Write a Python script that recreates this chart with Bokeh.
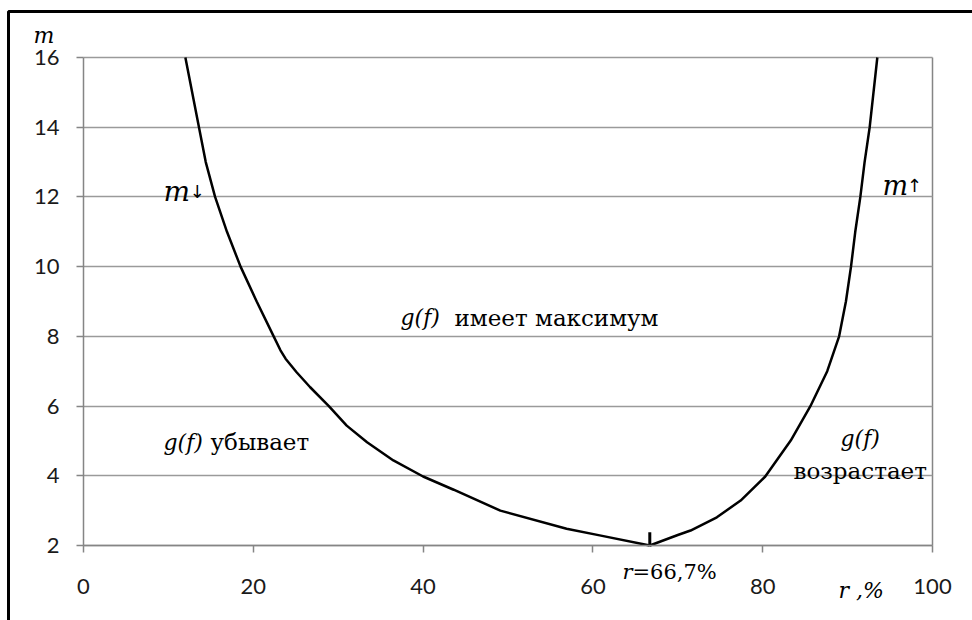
from bokeh.plotting import figure
from bokeh.models import Range1d, FixedTicker, Label, BoxAnnotation
from bokeh.embed import file_html
from bokeh.resources import INLINE

# ---- data ----
r_left = [12.0, 13.6, 14.4, 15.5, 16.9, 18.5, 20.4, 22.4, 23.2, 23.8, 25.1, 26.7, 28.9, 31.0,
          33.4, 36.5, 40.0, 43.6, 49.1, 56.9, 60.8, 66.7]
m_left = [16.0, 14.0, 13.0, 12.0, 11.0, 10.0, 9.0, 8.0, 7.6, 7.36, 6.97, 6.54, 6.0, 5.44,
          4.96, 4.44, 3.98, 3.6, 3.0, 2.48, 2.29, 2.0]
r_right = [66.7, 70.0, 71.5, 74.6, 77.4, 80.3, 83.3, 85.6, 87.6, 89.0, 89.8, 90.4, 90.9,
           91.5, 92.0, 92.6, 93.5]
m_right = [2.0, 2.3, 2.43, 2.81, 3.29, 3.98, 5.01, 5.99, 7.0, 8.0, 9.0, 10.0, 11.0,
           12.0, 13.0, 14.0, 16.0]
r_min = [66.7]          # r = 66.7 % marker
m_min = [2.0]
marker_top = [2.38]
x_ticks = [0, 20, 40, 60, 80, 100]
y_ticks = [2, 4, 6, 8, 10, 12, 14, 16]
x_lim = (0, 100)
y_lim = (2, 16)

SANS = "Lato"
SERIF = "DejaVu Serif"
GRAY = "#858585"

# the frame covers the whole canvas; axes are pinned at r=0 / m=2
p = figure(width=972, height=620, output_backend="svg", toolbar_location=None,
           x_range=Range1d(-9.776, 104.71), y_range=Range1d(-0.1517, 17.6355),
           min_border=0)
p.background_fill_color = "white"
p.border_fill_color = "white"
p.outline_line_color = None

for ax in (p.xaxis[0], p.yaxis[0]):
    ax.axis_line_color = GRAY
    ax.axis_line_width = 1.5
    ax.major_tick_line_color = GRAY
    ax.major_tick_line_width = 1.5
    ax.major_tick_out = 7
    ax.major_tick_in = 0
    ax.minor_tick_line_color = None
    ax.major_label_text_font = SANS
    ax.major_label_text_font_size = "22px"
    ax.major_label_text_color = "#1a1a1a"
p.xaxis[0].ticker = FixedTicker(ticks=x_ticks)
p.yaxis[0].ticker = FixedTicker(ticks=y_ticks)
p.xaxis[0].fixed_location = y_lim[0]
p.yaxis[0].fixed_location = x_lim[0]
p.xaxis[0].bounds = x_lim
p.yaxis[0].bounds = y_lim
p.xaxis[0].major_label_standoff = 27
p.yaxis[0].major_label_standoff = 17

p.ygrid.ticker = FixedTicker(ticks=y_ticks)
p.ygrid.cross_bounds = x_lim
p.ygrid.grid_line_color = "#9a9a9a"
p.ygrid.grid_line_width = 1.5
p.xgrid.ticker = FixedTicker(ticks=[x_lim[1]])
p.xgrid.cross_bounds = y_lim
p.xgrid.grid_line_color = GRAY
p.xgrid.grid_line_width = 1.5

p.line(r_left, m_left, line_color="black", line_width=2.5)
p.line(r_right, m_right, line_color="black", line_width=2.5)
p.segment(x0=r_min, y0=m_min, x1=r_min, y1=marker_top, line_color="black", line_width=3)

def lab(x, y, text, size, style="normal", font=SERIF):
    p.add_layout(Label(x=x, y=y, text=text, text_font=font, text_font_size=size,
                       text_font_style=style, text_align="left", text_baseline="alphabetic",
                       text_color="black"))

# axis titles
lab(-5.89, 16.62, "m", "22px", "italic")
lab(88.93, 0.709, "r ,%", "22px", "italic")
# minimum annotation
lab(63.5, 1.254, "r", "21px", "italic")
lab(64.66, 1.254, "=66,7%", "21px")
# region labels
lab(9.42, 12.156, "m", "28px", "italic")
lab(12.5, 12.156, "↓", "18px", font="DejaVu Sans")
lab(94.1, 12.33, "m", "27px", "italic")
lab(97.0, 12.33, "↑", "18px", font="DejaVu Sans")
lab(37.34, 8.54, "g(f)", "22px", "italic")
lab(43.7, 8.54, "имеет максимум", "23px")
lab(9.42, 4.96, "g(f)", "22px", "italic")
lab(14.96, 4.96, "убывает", "23px")
lab(89.16, 5.07, "g(f)", "22px", "italic")
lab(83.63, 4.15, "возрастает", "23px")

# outer frame of the picture
p.add_layout(BoxAnnotation(left=8, right=1100, top=11, bottom=800,
                           left_units="canvas", right_units="canvas",
                           top_units="canvas", bottom_units="canvas",
                           fill_alpha=0, line_color="black", line_alpha=1.0, line_width=3))

open("out.html", "w").write(file_html(p, INLINE))
